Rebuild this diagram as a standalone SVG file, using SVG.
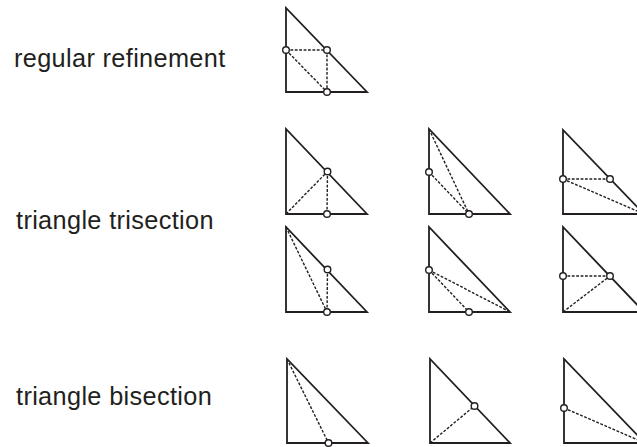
<svg xmlns="http://www.w3.org/2000/svg" width="637" height="447" viewBox="0 0 637 447">
<style>
.lbl{font-family:"Liberation Sans",Arial,sans-serif;font-size:25.3px;fill:#231f20;letter-spacing:0.35px}
.tri{fill:none;stroke:#231f20;stroke-width:1.8;stroke-linejoin:miter}
.d{stroke:#231f20;stroke-width:1.4;stroke-dasharray:2.8 1.6;fill:none}
.pt{fill:#fff;stroke:#231f20;stroke-width:1.4}
</style>
<rect width="637" height="447" fill="#fff"/>
<text class="lbl" x="14" y="67">regular refinement</text>
<text class="lbl" x="16" y="229">triangle trisection</text>
<text class="lbl" x="16" y="405">triangle bisection</text>

<g id="connectors">
<line class="d" x1="286" y1="50" x2="327" y2="50"/>
<line class="d" x1="327" y1="50" x2="327" y2="92"/>
<line class="d" x1="286" y1="50" x2="327" y2="92"/>
<line class="d" x1="286" y1="214" x2="327.5" y2="171.5"/>
<line class="d" x1="327.5" y1="171.5" x2="327" y2="214"/>
<line class="d" x1="429" y1="129" x2="469" y2="214"/>
<line class="d" x1="429" y1="172" x2="469" y2="214"/>
<line class="d" x1="563" y1="179" x2="610" y2="179"/>
<line class="d" x1="563" y1="179" x2="644" y2="214"/>
<line class="d" x1="286" y1="227" x2="327" y2="312"/>
<line class="d" x1="327.5" y1="269.5" x2="327" y2="312"/>
<line class="d" x1="429" y1="270" x2="510" y2="312"/>
<line class="d" x1="429" y1="270" x2="469" y2="312"/>
<line class="d" x1="563" y1="276" x2="610" y2="276"/>
<line class="d" x1="563" y1="312" x2="610" y2="276"/>
<line class="d" x1="287" y1="359" x2="328.5" y2="443"/>
<line class="d" x1="430" y1="443" x2="474.5" y2="406"/>
<line class="d" x1="564" y1="408" x2="645" y2="443"/>
</g>

<g id="reg">
<polygon class="tri" points="286,8 286,92 367,92"/>
<circle class="pt" cx="286" cy="50" r="3.3"/>
<circle class="pt" cx="327" cy="50" r="3.3"/>
<circle class="pt" cx="327" cy="92" r="3.3"/>
</g>
<g id="tri-r1c1">
<polygon class="tri" points="286,129 286,214 367,214"/>
<circle class="pt" cx="327.5" cy="171.5" r="3.3"/>
<circle class="pt" cx="327" cy="214" r="3.3"/>
</g>
<g id="tri-r1c2">
<polygon class="tri" points="429,129 429,214 510,214"/>
<circle class="pt" cx="429" cy="172" r="3.3"/>
<circle class="pt" cx="469" cy="214" r="3.3"/>
</g>
<g id="tri-r1c3">
<polygon class="tri" points="563,130 563,214 644,214"/>
<circle class="pt" cx="563" cy="179" r="3.3"/>
<circle class="pt" cx="610" cy="179" r="3.3"/>
</g>
<g id="tri-r2c1">
<polygon class="tri" points="286,227 286,312 367,312"/>
<circle class="pt" cx="327.5" cy="269.5" r="3.3"/>
<circle class="pt" cx="327" cy="312" r="3.3"/>
</g>
<g id="tri-r2c2">
<polygon class="tri" points="429,227 429,312 510,312"/>
<circle class="pt" cx="429" cy="270" r="3.3"/>
<circle class="pt" cx="469" cy="312" r="3.3"/>
</g>
<g id="tri-r2c3">
<polygon class="tri" points="563,227 563,312 644,312"/>
<circle class="pt" cx="563" cy="276" r="3.3"/>
<circle class="pt" cx="610" cy="276" r="3.3"/>
</g>
<g id="bi-c1">
<polygon class="tri" points="287,359 287,443 368,443"/>
<circle class="pt" cx="328.5" cy="443" r="3.3"/>
</g>
<g id="bi-c2">
<polygon class="tri" points="430,359 430,443 510,443"/>
<circle class="pt" cx="474.5" cy="406" r="3.3"/>
</g>
<g id="bi-c3">
<polygon class="tri" points="564,359 564,443 645,443"/>
<circle class="pt" cx="564" cy="408" r="3.3"/>
</g>
</svg>
